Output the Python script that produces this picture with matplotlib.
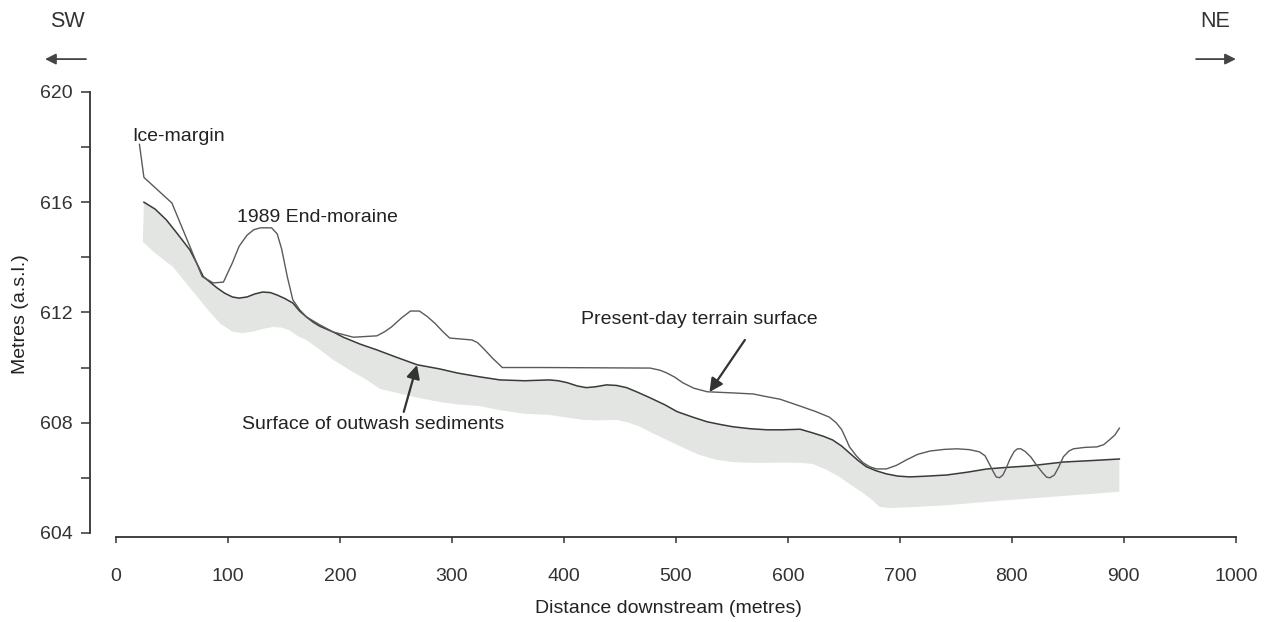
"""Longitudinal profile: present-day terrain vs. surface of outwash sediments."""

import numpy as np
import matplotlib
matplotlib.use("Agg")
import matplotlib.pyplot as plt
from matplotlib.ticker import MultipleLocator

plt.rcParams["font.family"] = ["Liberation Sans", "DejaVu Sans"]

# Present-day terrain surface (distance m, elevation m a.s.l.)
terrain_x = [21, 25, 50, 68, 77, 87, 96, 104, 110, 117, 123, 129, 139, 144, 148, 153, 158,
             164, 170, 182, 194, 212, 233, 240, 246, 255, 263, 271, 278, 285, 292, 298, 318,
             323, 328, 336, 345, 380, 477, 486, 492, 499, 506, 516, 528, 550, 569, 580, 593,
             611, 625, 637, 643, 648, 652, 655, 661, 667, 673, 679, 688, 697, 706, 716, 727,
             740, 751, 762, 771, 776, 779, 783, 786, 789, 792, 795, 798, 802, 805, 808, 812,
             817, 822, 827, 831, 834, 838, 842, 846, 851, 855, 865, 876, 882, 887, 892, 896]
terrain_y = [618.1, 616.9, 615.97, 614.2, 613.3, 613.07, 613.1, 613.8, 614.4, 614.8, 615.0,
             615.07, 615.07, 614.85, 614.3, 613.3, 612.45, 612.1, 611.84, 611.55, 611.29,
             611.1, 611.15, 611.3, 611.47, 611.8, 612.05, 612.05, 611.85, 611.6, 611.3, 611.07,
             611.0, 610.9, 610.7, 610.35, 610.0, 610.0, 609.98, 609.9, 609.8, 609.65, 609.45,
             609.25, 609.12, 609.08, 609.04, 608.95, 608.85, 608.6, 608.4, 608.2, 608.0, 607.75,
             607.4, 607.12, 606.8, 606.55, 606.4, 606.32, 606.32, 606.45, 606.65, 606.85,
             606.97, 607.03, 607.05, 607.02, 606.94, 606.8, 606.57, 606.25, 606.03, 606.0,
             606.1, 606.35, 606.65, 606.95, 607.05, 607.05, 606.95, 606.75, 606.46, 606.2,
             606.02, 606.0, 606.1, 606.4, 606.76, 606.97, 607.05, 607.1, 607.12, 607.2, 607.37,
             607.55, 607.8]

# Surface of outwash sediments (top of shaded unit)
outwash_x = [25, 35, 45, 55, 66, 72, 78, 84, 90, 97, 104, 110, 117, 124, 131, 138, 144, 151,
             158, 164, 170, 176, 182, 194, 203, 218, 233, 250, 269, 289, 305, 325, 343, 365,
             387, 395, 403, 412, 420, 428, 438, 447, 456, 466, 477, 490, 501, 515, 528, 540,
             551, 566, 581, 596, 611, 622, 632, 640, 648, 655, 662, 670, 679, 688, 698, 709,
             725, 742, 760, 778, 797, 816, 831, 846, 870, 896]
outwash_y = [616.0, 615.75, 615.36, 614.85, 614.27, 613.8, 613.3, 613.1, 612.9, 612.7, 612.56,
             612.52, 612.56, 612.67, 612.74, 612.72, 612.63, 612.5, 612.34, 612.05, 611.84,
             611.65, 611.5, 611.29, 611.1, 610.85, 610.64, 610.38, 610.1, 609.95, 609.8,
             609.66, 609.55, 609.52, 609.55, 609.52, 609.45, 609.33, 609.27, 609.3, 609.37,
             609.35, 609.27, 609.1, 608.9, 608.65, 608.4, 608.2, 608.03, 607.93, 607.85,
             607.78, 607.74, 607.74, 607.76, 607.63, 607.5, 607.37, 607.15, 606.9, 606.65,
             606.4, 606.25, 606.14, 606.06, 606.03, 606.06, 606.1, 606.2, 606.32, 606.38,
             606.43, 606.5, 606.57, 606.62, 606.68]

# Base of the shaded outwash band
base_x = [24, 35, 51, 63, 75, 84, 93, 104, 113, 122, 131, 140, 148, 155, 162, 170, 182, 194,
          209, 224, 236, 254, 270, 289, 305, 325, 343, 365, 387, 400, 417, 432, 447, 458, 468,
          480, 492, 506, 521, 536, 551, 566, 581, 596, 611, 622, 634, 646, 656, 667, 675, 682,
          691, 710, 742, 770, 801, 850, 896]
base_y = [614.56, 614.15, 613.65, 613.05, 612.45, 612.0, 611.6, 611.3, 611.25, 611.3, 611.4,
          611.47, 611.45, 611.35, 611.15, 611.0, 610.65, 610.28, 609.9, 609.55, 609.22,
          609.05, 608.9, 608.75, 608.66, 608.6, 608.45, 608.32, 608.28, 608.2, 608.1, 608.08,
          608.1, 608.0, 607.85, 607.6, 607.37, 607.1, 606.83, 606.65, 606.57, 606.54, 606.54,
          606.55, 606.54, 606.5, 606.3, 606.03, 605.75, 605.45, 605.2, 604.94, 604.9, 604.93,
          605.0, 605.1, 605.2, 605.35, 605.49]

x_ticks = list(range(0, 1001, 100))
y_ticks = [604, 608, 612, 616, 620]

fig = plt.figure(figsize=(12.65, 6.22), dpi=100)
ax = fig.add_axes([0.0711, 0.1367, 0.9147, 0.7154])

# shaded outwash unit
band_x = np.r_[outwash_x, base_x[::-1]]
band_y = np.r_[outwash_y, base_y[::-1]]
ax.fill(band_x, band_y, color="#e3e5e3", lw=0, zorder=1)

ax.plot(outwash_x, outwash_y, color="#3a3a3a", lw=1.1, zorder=3)
ax.plot(terrain_x, terrain_y, color="#5a5a5a", lw=1.0, zorder=4)

# axes styling
ax.set_xlim(-23.2, 1010)
ax.set_ylim(603.85, 620)
for s in ("top", "right"):
    ax.spines[s].set_visible(False)
ax.spines["left"].set_bounds(604, 620)
ax.spines["bottom"].set_bounds(0, 1000)
for s in ("left", "bottom"):
    ax.spines[s].set_color("#333333")
    ax.spines[s].set_linewidth(1.3)

ax.set_xticks(x_ticks)
ax.set_yticks(y_ticks)
ax.yaxis.set_minor_locator(MultipleLocator(2))
ax.tick_params(axis="y", which="both", length=6.5, width=1.1, color="#333333",
               labelsize=14, labelcolor="#333333", pad=6)
ax.tick_params(axis="x", length=4, width=1.1, color="#333333",
               labelsize=14, labelcolor="#333333", pad=18)

ax.set_xlabel("Distance downstream (metres)", fontsize=14, color="#222222", labelpad=11)
ax.set_ylabel("Metres (a.s.l.)", fontsize=14, color="#222222", labelpad=8)

# labels inside the plot
txt = dict(fontsize=14, color="#222222", va="center", ha="left")
ax.text(14.3, 618.37, "Ice-margin", **txt)
ax.text(108, 615.46, "1989 End-moraine", **txt)
ax.text(415, 611.73, "Present-day terrain surface", **txt)
ax.text(112.5, 607.92, "Surface of outwash sediments", **txt)

arr = dict(arrowstyle="-|>", color="#333333", lw=1.6, mutation_scale=20, shrinkA=0, shrinkB=0)
ax.annotate("", xy=(530, 609.11), xytext=(561.6, 611.0), arrowprops=arr)
ax.annotate("", xy=(268.8, 610.09), xytext=(257, 608.39), arrowprops=arr)

# orientation markers
fig.text(0.053, 0.965, "SW", fontsize=15.5, color="#333333", ha="center", va="center")
fig.text(0.9605, 0.965, "NE", fontsize=15.5, color="#333333", ha="center", va="center")
dir_arr = dict(arrowstyle="-|>", color="#444444", lw=1.3, mutation_scale=16, shrinkA=0, shrinkB=0)
fig.add_artist(matplotlib.patches.FancyArrowPatch((0.068, 0.905), (0.0356, 0.905),
                                                  transform=fig.transFigure, **dir_arr))
fig.add_artist(matplotlib.patches.FancyArrowPatch((0.9455, 0.905), (0.977, 0.905),
                                                  transform=fig.transFigure, **dir_arr))

fig.savefig("out.png", dpi=100)
